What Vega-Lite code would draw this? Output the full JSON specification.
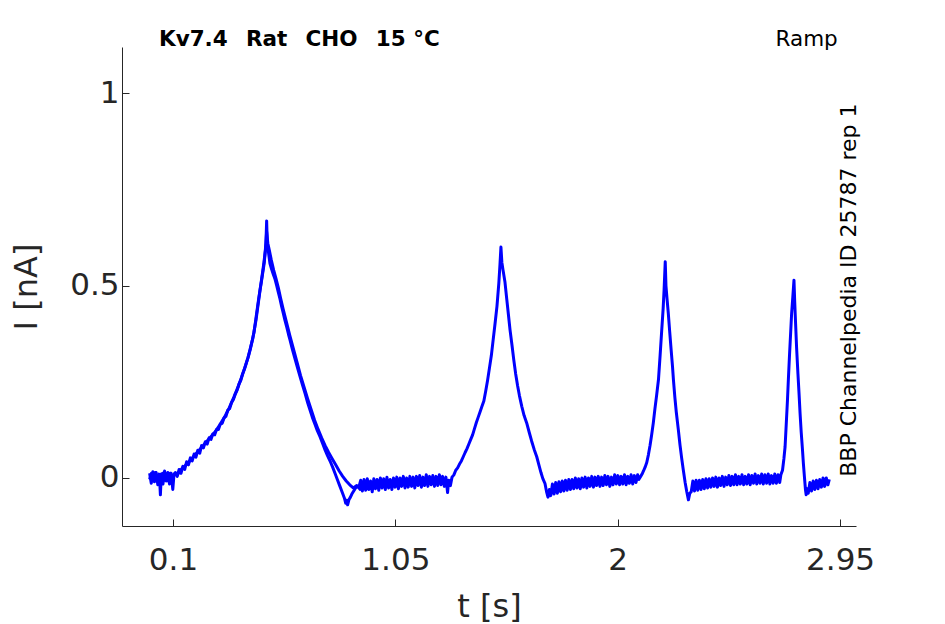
{
  "$schema": "https://vega.github.io/schema/vega-lite/v6.json",
  "width": 734,
  "height": 479,
  "autosize": "none",
  "padding": {"left": 122, "top": 47, "right": 89, "bottom": 98},
  "background": "white",
  "config": {
    "view": {"stroke": null},
    "axis": {
      "domainColor": "#262626",
      "tickColor": "#262626",
      "labelColor": "#262626",
      "titleColor": "#262626",
      "labelFont": "DejaVu Sans",
      "titleFont": "DejaVu Sans",
      "grid": false,
      "tickSize": -7,
      "titleFontWeight": "normal"
    }
  },
  "layer": [
    {
      "data": {
        "values": [
          {"t": 0.000, "I": 0.012, "s": "a"}, {"t": 0.007, "I": -0.014, "s": "a"}, {"t": 0.014, "I": 0.016, "s": "a"},
          {"t": 0.021, "I": -0.010, "s": "a"}, {"t": 0.028, "I": 0.014, "s": "a"}, {"t": 0.035, "I": -0.018, "s": "a"},
          {"t": 0.042, "I": 0.006, "s": "a"}, {"t": 0.046, "I": -0.044, "s": "a"}, {"t": 0.050, "I": 0.010, "s": "a"},
          {"t": 0.057, "I": -0.016, "s": "a"}, {"t": 0.064, "I": 0.018, "s": "a"}, {"t": 0.071, "I": -0.008, "s": "a"},
          {"t": 0.078, "I": 0.014, "s": "a"}, {"t": 0.085, "I": -0.016, "s": "a"}, {"t": 0.092, "I": 0.012, "s": "a"},
          {"t": 0.099, "I": -0.030, "s": "a"}, {"t": 0.104, "I": 0.008, "s": "a"},
          {"t": 0.110, "I": 0.014, "s": "a"}, {"t": 0.118, "I": 0.004, "s": "a"}, {"t": 0.126, "I": 0.022, "s": "a"},
          {"t": 0.134, "I": 0.012, "s": "a"}, {"t": 0.142, "I": 0.030, "s": "a"}, {"t": 0.150, "I": 0.022, "s": "a"},
          {"t": 0.158, "I": 0.042, "s": "a"}, {"t": 0.166, "I": 0.034, "s": "a"}, {"t": 0.174, "I": 0.052, "s": "a"},
          {"t": 0.182, "I": 0.044, "s": "a"}, {"t": 0.190, "I": 0.062, "s": "a"}, {"t": 0.198, "I": 0.054, "s": "a"},
          {"t": 0.206, "I": 0.072, "s": "a"}, {"t": 0.214, "I": 0.064, "s": "a"}, {"t": 0.222, "I": 0.084, "s": "a"},
          {"t": 0.230, "I": 0.078, "s": "a"}, {"t": 0.238, "I": 0.094, "s": "a"}, {"t": 0.246, "I": 0.088, "s": "a"},
          {"t": 0.254, "I": 0.104, "s": "a"}, {"t": 0.262, "I": 0.100, "s": "a"}, {"t": 0.270, "I": 0.114, "s": "a"},
          {"t": 0.278, "I": 0.112, "s": "a"}, {"t": 0.286, "I": 0.126, "s": "a"}, {"t": 0.294, "I": 0.126, "s": "a"},
          {"t": 0.302, "I": 0.140, "s": "a"}, {"t": 0.310, "I": 0.142, "s": "a"}, {"t": 0.318, "I": 0.156, "s": "a"},
          {"t": 0.326, "I": 0.160, "s": "a"}, {"t": 0.334, "I": 0.176, "s": "a"}, {"t": 0.342, "I": 0.180, "s": "a"},
          {"t": 0.350, "I": 0.196, "s": "a"}, {"t": 0.358, "I": 0.204, "s": "a"}, {"t": 0.366, "I": 0.218, "s": "a"},
          {"t": 0.374, "I": 0.228, "s": "a"}, {"t": 0.382, "I": 0.244, "s": "a"}, {"t": 0.390, "I": 0.254, "s": "a"},
          {"t": 0.398, "I": 0.272, "s": "a"}, {"t": 0.406, "I": 0.284, "s": "a"}, {"t": 0.414, "I": 0.300, "s": "a"},
          {"t": 0.422, "I": 0.316, "s": "a"}, {"t": 0.430, "I": 0.334, "s": "a"}, {"t": 0.438, "I": 0.356, "s": "a"},
          {"t": 0.446, "I": 0.378, "s": "a"}, {"t": 0.454, "I": 0.414, "s": "a"}, {"t": 0.460, "I": 0.440, "s": "a"},
          {"t": 0.466, "I": 0.466, "s": "a"}, {"t": 0.472, "I": 0.490, "s": "a"}, {"t": 0.478, "I": 0.512, "s": "a"},
          {"t": 0.484, "I": 0.536, "s": "a"}, {"t": 0.490, "I": 0.560, "s": "a"}, {"t": 0.494, "I": 0.590, "s": "a"},
          {"t": 0.497, "I": 0.610, "s": "a"}, {"t": 0.500, "I": 0.668, "s": "a"}, {"t": 0.503, "I": 0.600, "s": "a"},
          {"t": 0.507, "I": 0.590, "s": "a"}, {"t": 0.514, "I": 0.558, "s": "a"}, {"t": 0.520, "I": 0.545, "s": "a"},
          {"t": 0.528, "I": 0.530, "s": "a"}, {"t": 0.536, "I": 0.516, "s": "a"}, {"t": 0.543, "I": 0.500, "s": "a"},
          {"t": 0.550, "I": 0.482, "s": "a"}, {"t": 0.557, "I": 0.465, "s": "a"}, {"t": 0.564, "I": 0.446, "s": "a"},
          {"t": 0.571, "I": 0.428, "s": "a"}, {"t": 0.578, "I": 0.410, "s": "a"}, {"t": 0.586, "I": 0.392, "s": "a"},
          {"t": 0.593, "I": 0.374, "s": "a"}, {"t": 0.600, "I": 0.358, "s": "a"}, {"t": 0.610, "I": 0.334, "s": "a"},
          {"t": 0.620, "I": 0.312, "s": "a"}, {"t": 0.632, "I": 0.286, "s": "a"}, {"t": 0.643, "I": 0.263, "s": "a"},
          {"t": 0.654, "I": 0.240, "s": "a"}, {"t": 0.665, "I": 0.218, "s": "a"}, {"t": 0.675, "I": 0.196, "s": "a"},
          {"t": 0.685, "I": 0.177, "s": "a"}, {"t": 0.695, "I": 0.158, "s": "a"}, {"t": 0.706, "I": 0.140, "s": "a"},
          {"t": 0.717, "I": 0.122, "s": "a"}, {"t": 0.728, "I": 0.107, "s": "a"}, {"t": 0.740, "I": 0.088, "s": "a"},
          {"t": 0.750, "I": 0.072, "s": "a"}, {"t": 0.760, "I": 0.058, "s": "a"}, {"t": 0.771, "I": 0.044, "s": "a"},
          {"t": 0.782, "I": 0.028, "s": "a"}, {"t": 0.792, "I": 0.012, "s": "a"}, {"t": 0.802, "I": -0.004, "s": "a"},
          {"t": 0.812, "I": -0.020, "s": "a"}, {"t": 0.822, "I": -0.036, "s": "a"}, {"t": 0.832, "I": -0.052, "s": "a"},
          {"t": 0.838, "I": -0.066, "s": "a"}, {"t": 0.842, "I": -0.058, "s": "a"}, {"t": 0.846, "I": -0.070, "s": "a"},
          {"t": 0.852, "I": -0.056, "s": "a"}, {"t": 0.858, "I": -0.050, "s": "a"}, {"t": 0.864, "I": -0.042, "s": "a"},
          {"t": 0.870, "I": -0.036, "s": "a"}, {"t": 0.878, "I": -0.028, "s": "a"}, {"t": 0.886, "I": -0.022, "s": "a"},
          {"t": 0.894, "I": -0.024, "s": "a"},
          {"t": 0.902, "I": -0.006, "s": "a"}, {"t": 0.909, "I": -0.034, "s": "a"}, {"t": 0.916, "I": -0.004, "s": "a"},
          {"t": 0.923, "I": -0.032, "s": "a"}, {"t": 0.930, "I": -0.002, "s": "a"}, {"t": 0.937, "I": -0.030, "s": "a"},
          {"t": 0.944, "I": -0.008, "s": "a"}, {"t": 0.951, "I": -0.036, "s": "a"}, {"t": 0.958, "I": -0.002, "s": "a"},
          {"t": 0.965, "I": -0.028, "s": "a"}, {"t": 0.972, "I": -0.004, "s": "a"}, {"t": 0.979, "I": -0.032, "s": "a"},
          {"t": 0.986, "I": 0.000, "s": "a"}, {"t": 0.993, "I": -0.026, "s": "a"}, {"t": 1.000, "I": -0.002, "s": "a"},
          {"t": 1.007, "I": -0.030, "s": "a"}, {"t": 1.014, "I": 0.002, "s": "a"}, {"t": 1.021, "I": -0.026, "s": "a"},
          {"t": 1.028, "I": -0.004, "s": "a"}, {"t": 1.035, "I": -0.030, "s": "a"}, {"t": 1.042, "I": 0.000, "s": "a"},
          {"t": 1.049, "I": -0.024, "s": "a"}, {"t": 1.056, "I": 0.002, "s": "a"}, {"t": 1.063, "I": -0.028, "s": "a"},
          {"t": 1.070, "I": 0.000, "s": "a"}, {"t": 1.077, "I": -0.022, "s": "a"}, {"t": 1.084, "I": 0.004, "s": "a"},
          {"t": 1.091, "I": -0.026, "s": "a"}, {"t": 1.098, "I": 0.000, "s": "a"}, {"t": 1.105, "I": -0.024, "s": "a"},
          {"t": 1.112, "I": 0.004, "s": "a"}, {"t": 1.119, "I": -0.022, "s": "a"}, {"t": 1.126, "I": 0.002, "s": "a"},
          {"t": 1.133, "I": -0.026, "s": "a"}, {"t": 1.140, "I": 0.004, "s": "a"}, {"t": 1.147, "I": -0.020, "s": "a"},
          {"t": 1.154, "I": 0.006, "s": "a"}, {"t": 1.161, "I": -0.024, "s": "a"}, {"t": 1.168, "I": 0.002, "s": "a"},
          {"t": 1.175, "I": -0.020, "s": "a"}, {"t": 1.182, "I": 0.008, "s": "a"}, {"t": 1.189, "I": -0.022, "s": "a"},
          {"t": 1.196, "I": 0.004, "s": "a"}, {"t": 1.203, "I": -0.018, "s": "a"}, {"t": 1.210, "I": 0.006, "s": "a"},
          {"t": 1.217, "I": -0.022, "s": "a"}, {"t": 1.224, "I": 0.004, "s": "a"}, {"t": 1.231, "I": -0.020, "s": "a"},
          {"t": 1.238, "I": 0.008, "s": "a"}, {"t": 1.245, "I": -0.018, "s": "a"}, {"t": 1.252, "I": 0.004, "s": "a"},
          {"t": 1.259, "I": -0.022, "s": "a"}, {"t": 1.266, "I": 0.002, "s": "a"}, {"t": 1.273, "I": -0.038, "s": "a"},
          {"t": 1.278, "I": -0.006, "s": "a"}, {"t": 1.285, "I": -0.020, "s": "a"}, {"t": 1.292, "I": 0.002, "s": "a"},
          {"t": 1.300, "I": 0.008, "s": "a"}, {"t": 1.308, "I": 0.020, "s": "a"}, {"t": 1.316, "I": 0.026, "s": "a"},
          {"t": 1.324, "I": 0.036, "s": "a"}, {"t": 1.332, "I": 0.044, "s": "a"}, {"t": 1.340, "I": 0.055, "s": "a"},
          {"t": 1.348, "I": 0.066, "s": "a"}, {"t": 1.356, "I": 0.076, "s": "a"}, {"t": 1.364, "I": 0.088, "s": "a"},
          {"t": 1.372, "I": 0.100, "s": "a"}, {"t": 1.380, "I": 0.112, "s": "a"}, {"t": 1.388, "I": 0.128, "s": "a"},
          {"t": 1.396, "I": 0.144, "s": "a"}, {"t": 1.404, "I": 0.158, "s": "a"}, {"t": 1.412, "I": 0.172, "s": "a"},
          {"t": 1.420, "I": 0.186, "s": "a"}, {"t": 1.428, "I": 0.200, "s": "a"}, {"t": 1.436, "I": 0.226, "s": "a"},
          {"t": 1.444, "I": 0.254, "s": "a"}, {"t": 1.452, "I": 0.286, "s": "a"}, {"t": 1.460, "I": 0.318, "s": "a"},
          {"t": 1.468, "I": 0.360, "s": "a"}, {"t": 1.476, "I": 0.402, "s": "a"}, {"t": 1.484, "I": 0.446, "s": "a"},
          {"t": 1.492, "I": 0.506, "s": "a"}, {"t": 1.497, "I": 0.556, "s": "a"}, {"t": 1.501, "I": 0.600, "s": "a"},
          {"t": 1.505, "I": 0.560, "s": "a"}, {"t": 1.510, "I": 0.540, "s": "a"}, {"t": 1.518, "I": 0.510, "s": "a"},
          {"t": 1.526, "I": 0.464, "s": "a"}, {"t": 1.533, "I": 0.424, "s": "a"}, {"t": 1.540, "I": 0.384, "s": "a"},
          {"t": 1.548, "I": 0.346, "s": "a"}, {"t": 1.556, "I": 0.306, "s": "a"}, {"t": 1.564, "I": 0.270, "s": "a"},
          {"t": 1.572, "I": 0.240, "s": "a"}, {"t": 1.580, "I": 0.214, "s": "a"}, {"t": 1.590, "I": 0.186, "s": "a"},
          {"t": 1.600, "I": 0.162, "s": "a"}, {"t": 1.611, "I": 0.143, "s": "a"}, {"t": 1.622, "I": 0.118, "s": "a"},
          {"t": 1.632, "I": 0.096, "s": "a"}, {"t": 1.643, "I": 0.074, "s": "a"}, {"t": 1.654, "I": 0.055, "s": "a"},
          {"t": 1.664, "I": 0.032, "s": "a"}, {"t": 1.672, "I": 0.014, "s": "a"}, {"t": 1.680, "I": -0.002, "s": "a"},
          {"t": 1.689, "I": -0.014, "s": "a"}, {"t": 1.696, "I": -0.036, "s": "a"}, {"t": 1.702, "I": -0.050, "s": "a"},
          {"t": 1.708, "I": -0.030, "s": "a"},
          {"t": 1.714, "I": -0.046, "s": "a"}, {"t": 1.721, "I": -0.016, "s": "a"}, {"t": 1.728, "I": -0.042, "s": "a"},
          {"t": 1.735, "I": -0.012, "s": "a"}, {"t": 1.742, "I": -0.040, "s": "a"}, {"t": 1.749, "I": -0.010, "s": "a"},
          {"t": 1.756, "I": -0.036, "s": "a"}, {"t": 1.763, "I": -0.008, "s": "a"}, {"t": 1.770, "I": -0.034, "s": "a"},
          {"t": 1.777, "I": -0.006, "s": "a"}, {"t": 1.784, "I": -0.032, "s": "a"}, {"t": 1.791, "I": -0.004, "s": "a"},
          {"t": 1.798, "I": -0.030, "s": "a"}, {"t": 1.805, "I": -0.004, "s": "a"}, {"t": 1.812, "I": -0.028, "s": "a"},
          {"t": 1.819, "I": 0.000, "s": "a"}, {"t": 1.826, "I": -0.026, "s": "a"}, {"t": 1.833, "I": -0.002, "s": "a"},
          {"t": 1.840, "I": -0.028, "s": "a"}, {"t": 1.847, "I": 0.000, "s": "a"}, {"t": 1.854, "I": -0.024, "s": "a"},
          {"t": 1.861, "I": 0.002, "s": "a"}, {"t": 1.868, "I": -0.026, "s": "a"}, {"t": 1.875, "I": 0.000, "s": "a"},
          {"t": 1.882, "I": -0.022, "s": "a"}, {"t": 1.889, "I": 0.004, "s": "a"}, {"t": 1.896, "I": -0.024, "s": "a"},
          {"t": 1.903, "I": 0.002, "s": "a"}, {"t": 1.910, "I": -0.020, "s": "a"}, {"t": 1.917, "I": 0.004, "s": "a"},
          {"t": 1.924, "I": -0.022, "s": "a"}, {"t": 1.931, "I": 0.002, "s": "a"}, {"t": 1.938, "I": -0.020, "s": "a"},
          {"t": 1.945, "I": 0.006, "s": "a"}, {"t": 1.952, "I": -0.018, "s": "a"}, {"t": 1.959, "I": 0.004, "s": "a"},
          {"t": 1.966, "I": -0.022, "s": "a"}, {"t": 1.973, "I": 0.002, "s": "a"}, {"t": 1.980, "I": -0.018, "s": "a"},
          {"t": 1.987, "I": 0.008, "s": "a"}, {"t": 1.994, "I": -0.016, "s": "a"}, {"t": 2.001, "I": 0.006, "s": "a"},
          {"t": 2.008, "I": -0.018, "s": "a"}, {"t": 2.015, "I": 0.004, "s": "a"}, {"t": 2.022, "I": -0.016, "s": "a"},
          {"t": 2.029, "I": 0.008, "s": "a"}, {"t": 2.036, "I": -0.018, "s": "a"}, {"t": 2.043, "I": 0.004, "s": "a"},
          {"t": 2.050, "I": -0.014, "s": "a"}, {"t": 2.057, "I": 0.008, "s": "a"}, {"t": 2.064, "I": -0.016, "s": "a"},
          {"t": 2.071, "I": 0.006, "s": "a"}, {"t": 2.078, "I": -0.012, "s": "a"}, {"t": 2.085, "I": 0.008, "s": "a"},
          {"t": 2.090, "I": -0.004, "s": "a"},
          {"t": 2.098, "I": 0.004, "s": "a"}, {"t": 2.104, "I": 0.010, "s": "a"}, {"t": 2.110, "I": 0.018, "s": "a"},
          {"t": 2.117, "I": 0.028, "s": "a"}, {"t": 2.124, "I": 0.040, "s": "a"}, {"t": 2.131, "I": 0.060, "s": "a"},
          {"t": 2.138, "I": 0.084, "s": "a"}, {"t": 2.145, "I": 0.112, "s": "a"}, {"t": 2.152, "I": 0.143, "s": "a"},
          {"t": 2.159, "I": 0.180, "s": "a"}, {"t": 2.166, "I": 0.214, "s": "a"}, {"t": 2.174, "I": 0.255, "s": "a"},
          {"t": 2.181, "I": 0.318, "s": "a"}, {"t": 2.188, "I": 0.384, "s": "a"}, {"t": 2.194, "I": 0.440, "s": "a"},
          {"t": 2.198, "I": 0.488, "s": "a"}, {"t": 2.203, "I": 0.562, "s": "a"}, {"t": 2.206, "I": 0.500, "s": "a"},
          {"t": 2.210, "I": 0.470, "s": "a"}, {"t": 2.216, "I": 0.428, "s": "a"}, {"t": 2.222, "I": 0.380, "s": "a"},
          {"t": 2.228, "I": 0.334, "s": "a"}, {"t": 2.234, "I": 0.290, "s": "a"}, {"t": 2.238, "I": 0.255, "s": "a"},
          {"t": 2.244, "I": 0.210, "s": "a"}, {"t": 2.250, "I": 0.172, "s": "a"}, {"t": 2.259, "I": 0.125, "s": "a"},
          {"t": 2.266, "I": 0.086, "s": "a"}, {"t": 2.273, "I": 0.052, "s": "a"}, {"t": 2.280, "I": 0.021, "s": "a"},
          {"t": 2.288, "I": -0.012, "s": "a"}, {"t": 2.295, "I": -0.036, "s": "a"}, {"t": 2.302, "I": -0.057, "s": "a"},
          {"t": 2.308, "I": -0.040, "s": "a"},
          {"t": 2.314, "I": -0.036, "s": "a"}, {"t": 2.321, "I": -0.008, "s": "a"}, {"t": 2.328, "I": -0.034, "s": "a"},
          {"t": 2.335, "I": -0.006, "s": "a"}, {"t": 2.342, "I": -0.032, "s": "a"}, {"t": 2.349, "I": -0.006, "s": "a"},
          {"t": 2.356, "I": -0.030, "s": "a"}, {"t": 2.363, "I": -0.004, "s": "a"}, {"t": 2.370, "I": -0.028, "s": "a"},
          {"t": 2.377, "I": -0.002, "s": "a"}, {"t": 2.384, "I": -0.026, "s": "a"}, {"t": 2.391, "I": -0.002, "s": "a"},
          {"t": 2.398, "I": -0.024, "s": "a"}, {"t": 2.405, "I": 0.000, "s": "a"}, {"t": 2.412, "I": -0.022, "s": "a"},
          {"t": 2.419, "I": 0.002, "s": "a"}, {"t": 2.426, "I": -0.024, "s": "a"}, {"t": 2.433, "I": 0.000, "s": "a"},
          {"t": 2.440, "I": -0.020, "s": "a"}, {"t": 2.447, "I": 0.004, "s": "a"}, {"t": 2.454, "I": -0.022, "s": "a"},
          {"t": 2.461, "I": 0.002, "s": "a"}, {"t": 2.468, "I": -0.018, "s": "a"}, {"t": 2.475, "I": 0.006, "s": "a"},
          {"t": 2.482, "I": -0.020, "s": "a"}, {"t": 2.489, "I": 0.004, "s": "a"}, {"t": 2.496, "I": -0.018, "s": "a"},
          {"t": 2.503, "I": 0.008, "s": "a"}, {"t": 2.510, "I": -0.018, "s": "a"}, {"t": 2.517, "I": 0.004, "s": "a"},
          {"t": 2.524, "I": -0.016, "s": "a"}, {"t": 2.531, "I": 0.008, "s": "a"}, {"t": 2.538, "I": -0.018, "s": "a"},
          {"t": 2.545, "I": 0.004, "s": "a"}, {"t": 2.552, "I": -0.016, "s": "a"}, {"t": 2.559, "I": 0.008, "s": "a"},
          {"t": 2.566, "I": -0.018, "s": "a"}, {"t": 2.573, "I": 0.006, "s": "a"}, {"t": 2.580, "I": -0.014, "s": "a"},
          {"t": 2.587, "I": 0.010, "s": "a"}, {"t": 2.594, "I": -0.016, "s": "a"}, {"t": 2.601, "I": 0.006, "s": "a"},
          {"t": 2.608, "I": -0.014, "s": "a"}, {"t": 2.615, "I": 0.010, "s": "a"}, {"t": 2.622, "I": -0.016, "s": "a"},
          {"t": 2.629, "I": 0.008, "s": "a"}, {"t": 2.636, "I": -0.014, "s": "a"}, {"t": 2.643, "I": 0.010, "s": "a"},
          {"t": 2.650, "I": -0.016, "s": "a"}, {"t": 2.657, "I": 0.006, "s": "a"}, {"t": 2.664, "I": -0.014, "s": "a"},
          {"t": 2.671, "I": 0.010, "s": "a"}, {"t": 2.678, "I": -0.014, "s": "a"}, {"t": 2.685, "I": 0.008, "s": "a"},
          {"t": 2.692, "I": -0.012, "s": "a"}, {"t": 2.697, "I": 0.008, "s": "a"},
          {"t": 2.704, "I": 0.020, "s": "a"}, {"t": 2.710, "I": 0.050, "s": "a"},
          {"t": 2.715, "I": 0.081, "s": "a"}, {"t": 2.720, "I": 0.140, "s": "a"}, {"t": 2.725, "I": 0.200, "s": "a"},
          {"t": 2.729, "I": 0.255, "s": "a"}, {"t": 2.734, "I": 0.320, "s": "a"}, {"t": 2.739, "I": 0.380, "s": "a"},
          {"t": 2.743, "I": 0.428, "s": "a"}, {"t": 2.748, "I": 0.470, "s": "a"}, {"t": 2.753, "I": 0.514, "s": "a"},
          {"t": 2.756, "I": 0.460, "s": "a"}, {"t": 2.760, "I": 0.400, "s": "a"}, {"t": 2.764, "I": 0.341, "s": "a"},
          {"t": 2.770, "I": 0.270, "s": "a"}, {"t": 2.775, "I": 0.215, "s": "a"}, {"t": 2.779, "I": 0.168, "s": "a"},
          {"t": 2.784, "I": 0.118, "s": "a"}, {"t": 2.789, "I": 0.076, "s": "a"}, {"t": 2.793, "I": 0.039, "s": "a"},
          {"t": 2.798, "I": 0.000, "s": "a"}, {"t": 2.802, "I": -0.030, "s": "a"}, {"t": 2.805, "I": -0.044, "s": "a"},
          {"t": 2.809, "I": -0.028, "s": "a"},
          {"t": 2.814, "I": -0.040, "s": "a"}, {"t": 2.821, "I": -0.012, "s": "a"}, {"t": 2.828, "I": -0.034, "s": "a"},
          {"t": 2.835, "I": -0.008, "s": "a"}, {"t": 2.842, "I": -0.030, "s": "a"}, {"t": 2.849, "I": -0.006, "s": "a"},
          {"t": 2.856, "I": -0.028, "s": "a"}, {"t": 2.863, "I": -0.004, "s": "a"}, {"t": 2.870, "I": -0.024, "s": "a"},
          {"t": 2.877, "I": 0.000, "s": "a"}, {"t": 2.884, "I": -0.022, "s": "a"}, {"t": 2.891, "I": 0.000, "s": "a"},
          {"t": 2.898, "I": -0.018, "s": "a"}, {"t": 2.904, "I": -0.004, "s": "a"},

          {"t": 0.000, "I": -0.004, "s": "b"}, {"t": 0.008, "I": 0.012, "s": "b"}, {"t": 0.016, "I": -0.008, "s": "b"},
          {"t": 0.024, "I": 0.014, "s": "b"}, {"t": 0.032, "I": -0.004, "s": "b"}, {"t": 0.040, "I": 0.010, "s": "b"},
          {"t": 0.048, "I": -0.010, "s": "b"}, {"t": 0.056, "I": 0.012, "s": "b"}, {"t": 0.064, "I": -0.006, "s": "b"},
          {"t": 0.072, "I": 0.010, "s": "b"}, {"t": 0.080, "I": -0.008, "s": "b"}, {"t": 0.088, "I": 0.012, "s": "b"},
          {"t": 0.096, "I": -0.004, "s": "b"}, {"t": 0.104, "I": 0.010, "s": "b"}, {"t": 0.120, "I": 0.010, "s": "b"},
          {"t": 0.140, "I": 0.026, "s": "b"}, {"t": 0.160, "I": 0.036, "s": "b"}, {"t": 0.180, "I": 0.050, "s": "b"},
          {"t": 0.200, "I": 0.064, "s": "b"}, {"t": 0.220, "I": 0.078, "s": "b"}, {"t": 0.240, "I": 0.092, "s": "b"},
          {"t": 0.260, "I": 0.106, "s": "b"}, {"t": 0.280, "I": 0.120, "s": "b"}, {"t": 0.300, "I": 0.138, "s": "b"},
          {"t": 0.320, "I": 0.158, "s": "b"}, {"t": 0.340, "I": 0.182, "s": "b"}, {"t": 0.360, "I": 0.210, "s": "b"},
          {"t": 0.380, "I": 0.240, "s": "b"}, {"t": 0.400, "I": 0.274, "s": "b"}, {"t": 0.420, "I": 0.312, "s": "b"},
          {"t": 0.440, "I": 0.360, "s": "b"}, {"t": 0.455, "I": 0.412, "s": "b"}, {"t": 0.470, "I": 0.480, "s": "b"},
          {"t": 0.485, "I": 0.545, "s": "b"}, {"t": 0.495, "I": 0.592, "s": "b"}, {"t": 0.500, "I": 0.640, "s": "b"},
          {"t": 0.505, "I": 0.610, "s": "b"}, {"t": 0.512, "I": 0.590, "s": "b"}, {"t": 0.520, "I": 0.566, "s": "b"},
          {"t": 0.530, "I": 0.540, "s": "b"}, {"t": 0.540, "I": 0.518, "s": "b"}, {"t": 0.550, "I": 0.494, "s": "b"},
          {"t": 0.560, "I": 0.466, "s": "b"}, {"t": 0.570, "I": 0.440, "s": "b"}, {"t": 0.580, "I": 0.416, "s": "b"},
          {"t": 0.590, "I": 0.392, "s": "b"}, {"t": 0.600, "I": 0.368, "s": "b"}, {"t": 0.615, "I": 0.334, "s": "b"},
          {"t": 0.630, "I": 0.300, "s": "b"}, {"t": 0.645, "I": 0.266, "s": "b"}, {"t": 0.660, "I": 0.236, "s": "b"},
          {"t": 0.675, "I": 0.206, "s": "b"}, {"t": 0.690, "I": 0.178, "s": "b"}, {"t": 0.705, "I": 0.150, "s": "b"},
          {"t": 0.720, "I": 0.126, "s": "b"}, {"t": 0.735, "I": 0.104, "s": "b"}, {"t": 0.750, "I": 0.084, "s": "b"},
          {"t": 0.765, "I": 0.066, "s": "b"}, {"t": 0.780, "I": 0.050, "s": "b"}, {"t": 0.795, "I": 0.034, "s": "b"},
          {"t": 0.810, "I": 0.018, "s": "b"}, {"t": 0.825, "I": 0.004, "s": "b"}, {"t": 0.840, "I": -0.008, "s": "b"},
          {"t": 0.855, "I": -0.018, "s": "b"}, {"t": 0.870, "I": -0.026, "s": "b"}, {"t": 0.885, "I": -0.020, "s": "b"},
          {"t": 0.900, "I": -0.030, "s": "b"}, {"t": 0.915, "I": -0.016, "s": "b"}, {"t": 0.930, "I": -0.028, "s": "b"},
          {"t": 0.945, "I": -0.014, "s": "b"}
        ]
      },
      "mark": {"type": "line", "color": "#0000ff", "strokeWidth": 3, "strokeJoin": "round"},
      "encoding": {
        "x": {
          "field": "t",
          "type": "quantitative",
          "scale": {"domain": [-0.118, 3.018], "nice": false, "zero": false},
          "axis": {
            "values": [0.1, 1.05, 2, 2.95],
            "labelExpr": "format(datum.value, '~g')",
            "title": "t [s]",
            "labelFontSize": 31,
            "labelPadding": 26,
            "titleFontSize": 32,
            "titlePadding": 16
          }
        },
        "y": {
          "field": "I",
          "type": "quantitative",
          "scale": {"domain": [-0.125, 1.12], "nice": false, "zero": false},
          "axis": {
            "values": [0, 0.5, 1],
            "labelExpr": "format(datum.value, '~g')",
            "title": "I [nA]",
            "labelFontSize": 31,
            "labelPadding": 10,
            "titleFontSize": 32,
            "titlePadding": 26
          }
        },
        "detail": {"field": "s", "type": "nominal"},
        "order": {"field": "t", "type": "quantitative"}
      }
    },
    {
      "data": {"values": [{"label": "Kv7.4\u2002\u00a0Rat\u2002\u00a0CHO\u2002\u00a015 °C"}]},
      "mark": {"type": "text", "align": "left", "baseline": "middle", "font": "DejaVu Sans", "fontWeight": "bold", "fontSize": 21.5, "color": "black"},
      "encoding": {
        "text": {"field": "label"},
        "x": {"datum": 0.04, "type": "quantitative"},
        "y": {"datum": 1.138, "type": "quantitative"}
      }
    },
    {
      "data": {"values": [{"label": "Ramp"}]},
      "mark": {"type": "text", "align": "right", "baseline": "middle", "font": "DejaVu Sans", "fontSize": 21.5, "color": "black"},
      "encoding": {
        "text": {"field": "label"},
        "x": {"datum": 2.94, "type": "quantitative"},
        "y": {"datum": 1.138, "type": "quantitative"}
      }
    },
    {
      "data": {"values": [{"label": "BBP Channelpedia ID 25787 rep 1"}]},
      "mark": {"type": "text", "align": "center", "baseline": "middle", "angle": 270, "font": "DejaVu Sans", "fontSize": 22, "color": "black"},
      "encoding": {
        "text": {"field": "label"},
        "x": {"datum": 2.988, "type": "quantitative"},
        "y": {"datum": 0.488, "type": "quantitative"}
      }
    }
  ]
}
